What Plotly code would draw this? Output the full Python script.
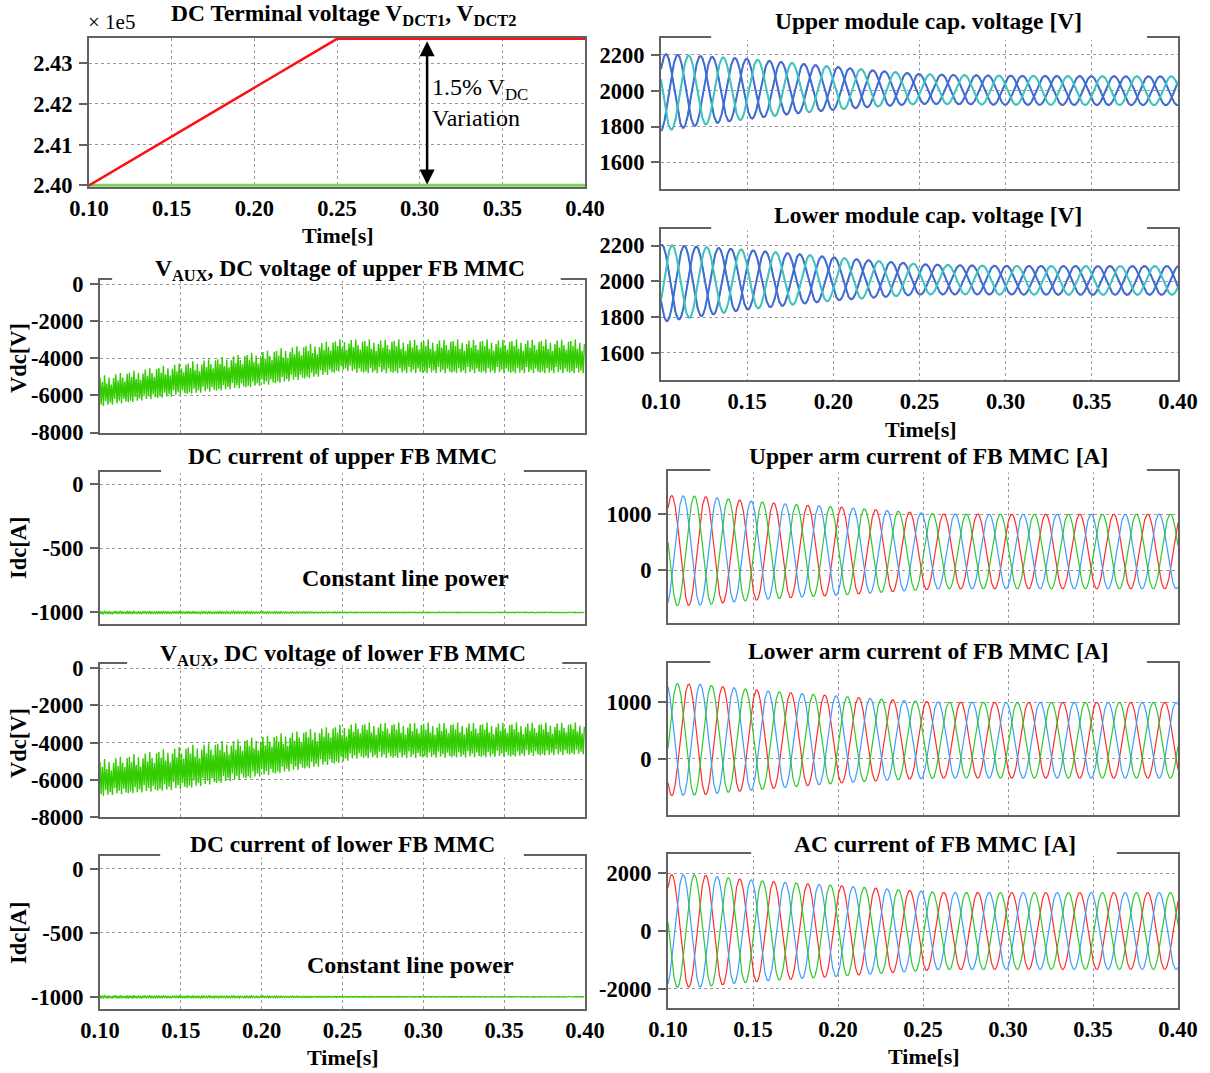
import numpy as np
import plotly.graph_objects as go

# ---------------- data ----------------
T_START, T_END = 0.10, 0.40
F_GRID = 50.0  # Hz
time_ticks = [0.10, 0.15, 0.20, 0.25, 0.30, 0.35, 0.40]

# DC terminal voltages [V]
vdc_t = [0.10, 0.25, 0.40]
vdct1 = [240000, 243600, 243600]
vdct2 = [240000, 240000, 240000]

# V_AUX switching band envelopes [V]
vaux_t = [0.10, 0.15, 0.20, 0.24, 0.25, 0.26, 0.30, 0.35, 0.40]
vaux_up_top = [-4950, -4250, -3620, -3080, -2950, -2980, -2980, -2980, -2980]
vaux_up_bot = [-6600, -5980, -5480, -4920, -4650, -4800, -4800, -4800, -4800]
vaux_lo_top = [-4920, -4200, -3650, -3150, -3020, -2920, -2920, -2920, -2920]
vaux_lo_bot = [-6880, -6500, -5800, -5220, -5050, -4830, -4820, -4770, -4620]
# switching ripple pattern (fraction of the band)
ripple_shape = [0.95, 0.05, 0.80, 0.00, 1.00, 0.15, 0.72, 0.02, 0.90, 0.08, 0.66, 0.00, 0.86,
                0.18, 0.97, 0.03, 0.76, 0.10, 0.99, 0.00, 0.83, 0.14, 0.70, 0.04, 0.93, 0.01]

# DC currents [A]
idc_t = [0.10, 0.25, 0.40]
idc_up = [-1000, -1000, -1000]
idc_lo = [-1000, -1000, -1000]
idc_ripple = [14, 4, 1.5]

# module capacitor voltages [V]
cap_t = [0.10, 0.125, 0.15, 0.175, 0.20, 0.225, 0.25, 0.275, 0.30, 0.35, 0.40]
cap_up_mean = [1990, 2002, 2010, 2013, 2014, 2012, 2010, 2006, 2003, 2001, 2000]
cap_up_amp = [215, 190, 168, 143, 120, 100, 83, 81, 81, 80, 80]
cap_lo_mean = [1988, 2000, 2009, 2012, 2013, 2012, 2011, 2008, 2006, 2005, 2005]
cap_lo_amp = [216, 192, 167, 144, 121, 102, 85, 81, 80, 80, 80]
cap_up_peak = [0.1029, 0.1097, 0.1161]   # phase a, b (blue), c (cyan)
cap_lo_peak = [0.1005, 0.1135, 0.1065]

# arm and AC currents [A]
cur_t = [0.10, 0.12, 0.14, 0.16, 0.18, 0.20, 0.22, 0.24, 0.26, 0.30, 0.35, 0.40]
iac_amp = [1950, 1935, 1810, 1715, 1640, 1570, 1490, 1410, 1335, 1330, 1330, 1330]
iarm_up_amp = [985, 970, 910, 860, 820, 789, 745, 705, 668, 665, 665, 665]
iarm_up_mean = [350, 349, 348, 346, 344, 342, 340, 338, 336, 335, 335, 335]
iarm_lo_amp = [992, 975, 915, 862, 815, 771, 730, 695, 672, 670, 670, 670]
iarm_lo_mean = [343, 341, 338, 336, 338, 341, 338, 336, 333, 331, 330, 330]
phase_peak = [0.1022, 0.1089, 0.1155]   # red, blue, green
phase_colors = ["#FF2B2B", "#3D9BFF", "#2DC82D"]

# ---------------- build signals ----------------
w = 2 * np.pi * F_GRID
t = np.arange(T_START, T_END + 1e-9, 0.0001)
t_sw = np.arange(T_START, T_END + 1e-9, 0.0007)
shape = np.resize(np.array(ripple_shape), len(t_sw))


def carrier(tt, knots, mean, amp, tpk, sign=1.0, extra=0.0):
    return np.interp(tt, knots, mean) + sign * (np.interp(tt, knots, amp) + extra) * np.cos(w * (tt - tpk))


def band(top, bot):
    tp = np.interp(t_sw, vaux_t, top)
    bt = np.interp(t_sw, vaux_t, bot)
    return bt + (tp - bt) * shape


W, H = 1210, 1073
FONT = "Liberation Serif"


def xd(a, b):
    return [a / W, b / W]


def yd(top, bot):
    return [1 - bot / H, 1 - top / H]


fig = go.Figure()

panels = {
    1: dict(x=(89, 585), y=(38, 187), rng=[2.3996, 2.4362], tv=[2.40, 2.41, 2.42, 2.43], xl=True),
    2: dict(x=(100, 585), y=(279.5, 432.5), rng=[-8000, 250], tv=[0, -2000, -4000, -6000, -8000], xl=False),
    3: dict(x=(100, 585), y=(471.5, 624), rng=[-1090, 100], tv=[0, -500, -1000], xl=False),
    4: dict(x=(100, 585), y=(664, 817), rng=[-8000, 230], tv=[0, -2000, -4000, -6000, -8000], xl=False),
    5: dict(x=(100, 585), y=(856, 1009), rng=[-1095, 100], tv=[0, -500, -1000], xl=True),
    6: dict(x=(661, 1178), y=(38.3, 189.3), rng=[1450, 2293], tv=[1600, 1800, 2000, 2200], xl=False),
    7: dict(x=(661, 1178), y=(229, 379.5), rng=[1450, 2293], tv=[1600, 1800, 2000, 2200], xl=True),
    8: dict(x=(668, 1178), y=(471, 623), rng=[-940, 1770], tv=[0, 1000], xl=False),
    9: dict(x=(668, 1178), y=(662.7, 815), rng=[-990, 1700], tv=[0, 1000], xl=False),
    10: dict(x=(668, 1178), y=(854.3, 1007.7), rng=[-2650, 2650], tv=[-2000, 0, 2000], xl=True),
}


def ax_names(i):
    return ("x" if i == 1 else f"x{i}"), ("y" if i == 1 else f"y{i}")


def add(i, x, y, color, width):
    xa, ya = ax_names(i)
    fig.add_trace(go.Scatter(x=x, y=y, mode="lines", line=dict(color=color, width=width),
                             xaxis=xa, yaxis=ya, showlegend=False, hoverinfo="skip"))


# 1: DC terminal voltages (in units of 1e5 V)
add(1, vdc_t, np.array(vdct2) / 1e5, "#7FD35A", 3)
add(1, vdc_t, np.array(vdct1) / 1e5, "#FF1010", 2.5)

# 2, 4: V_AUX
add(2, t_sw, band(vaux_up_top, vaux_up_bot), "#33CC00", 1.4)
add(4, t_sw, band(vaux_lo_top, vaux_lo_bot), "#33CC00", 1.4)

# 3, 5: DC currents
rip = (shape - 0.5) * 2 * np.interp(t_sw, idc_t, idc_ripple)
add(3, t_sw, np.interp(t_sw, idc_t, idc_up) + rip, "#3CCB0A", 1.3)
add(5, t_sw, np.interp(t_sw, idc_t, idc_lo) + rip, "#3CCB0A", 1.3)

# 6, 7: capacitor voltages
cap_top_cols = ["#3A6FD8", "#3A6FD8", "#38C8BC"]
cap_under_cols = ["#E82A2A", "#E070E0", "#E070E0"]
for idx, (mean, amp, peaks) in ((6, (cap_up_mean, cap_up_amp, cap_up_peak)),
                                (7, (cap_lo_mean, cap_lo_amp, cap_lo_peak))):
    for k in range(3):
        add(idx, t, carrier(t, cap_t, mean, amp, peaks[k], extra=2.5), cap_under_cols[k], 1.2)
    for k in range(3):
        add(idx, t, carrier(t, cap_t, mean, amp, peaks[k]), cap_top_cols[k], 2)

# 8, 9, 10: currents
for k in range(3):
    add(8, t, carrier(t, cur_t, iarm_up_mean, iarm_up_amp, phase_peak[k]), phase_colors[k], 1.2)
for k in range(3):
    add(9, t, carrier(t, cur_t, iarm_lo_mean, iarm_lo_amp, phase_peak[k], sign=-1), phase_colors[k], 1.2)
zeros = [0] * len(cur_t)
for k in range(3):
    add(10, t, carrier(t, cur_t, zeros, iac_amp, phase_peak[k]), phase_colors[k], 1.2)


# ---------------- axes ----------------
def lab(v, fmt):
    return "<b>" + (format(v, fmt)) + "</b>"


tickfont = dict(family=FONT, size=22.5, color="black")
layout = dict(width=W, height=H, margin=dict(l=0, r=0, t=0, b=0, autoexpand=False), autosize=False,
              paper_bgcolor="white", plot_bgcolor="white", showlegend=False)
for i, p in panels.items():
    xa, ya = ax_names(i)
    xk = "xaxis" if i == 1 else f"xaxis{i}"
    yk = "yaxis" if i == 1 else f"yaxis{i}"
    yfmt = ".2f" if i == 1 else "d"
    layout[xk] = dict(domain=xd(*p["x"]), anchor=ya, range=[T_START, T_END], tickvals=time_ticks,
                      ticktext=[lab(v, ".2f") for v in time_ticks],
                      showticklabels=p["xl"], ticks="", ticklabelstandoff=0,
                      tickfont=tickfont, showgrid=True, gridcolor="#9A9A9A", griddash="dot", gridwidth=1,
                      showline=True, mirror=True, linecolor="#626262", linewidth=2, zeroline=False,
                      fixedrange=True, automargin=False)
    layout[yk] = dict(domain=yd(*p["y"]), anchor=xa, range=p["rng"], tickvals=p["tv"],
                      ticktext=[lab(v, yfmt) for v in p["tv"]],
                      ticks="outside", ticklen=8, tickwidth=2, tickcolor="#626262",
                      tickfont=tickfont, showgrid=True, gridcolor="#9A9A9A", griddash="dot", gridwidth=1,
                      showline=True, mirror=True, linecolor="#626262", linewidth=2, zeroline=False,
                      fixedrange=True, ticklabelstandoff=2, automargin=False)
fig.update_layout(**layout)


# ---------------- texts ----------------
def px(x):
    return x / W


def py(y):
    return 1 - y / H


ann = []
titlefont = dict(family=FONT, size=23.5, color="black")
titles = [
    (343, 15, "DC Terminal voltage V<sub>DCT1</sub>, V<sub>DCT2</sub>"),
    (340, 270, "V<sub>AUX</sub>, DC voltage of upper FB MMC"),
    (342, 456, "DC current of upper FB MMC"),
    (343, 655, "V<sub>AUX</sub>, DC voltage of lower FB MMC"),
    (342, 844, "DC current of lower FB MMC"),
    (928, 21, "Upper module cap. voltage [V]"),
    (928, 215, "Lower module cap. voltage [V]"),
    (928, 456, "Upper arm current of FB MMC [A]"),
    (928, 651, "Lower arm current of FB MMC [A]"),
    (935, 844, "AC current of FB MMC [A]"),
]
for x, y, s in titles:
    ann.append(dict(x=px(x), y=py(y), xref="paper", yref="paper", text="<b>" + s + "</b>", showarrow=False,
                    font=titlefont, xanchor="center", yanchor="middle"))
for x, y in [(338, 236), (921, 429), (343, 1057), (924, 1056)]:
    ann.append(dict(x=px(x), y=py(y), xref="paper", yref="paper", text="<b>Time[s]</b>", showarrow=False,
                    font=dict(family=FONT, size=22, color="black"), xanchor="center", yanchor="middle"))
for y, s in [(358, "Vdc[V]"), (548, "Idc[A]"), (743, "Vdc[V]"), (933, "Idc[A]")]:
    ann.append(dict(x=px(18), y=py(y), xref="paper", yref="paper", text="<b>" + s + "</b>", showarrow=False,
                    font=dict(family=FONT, size=22.5, color="black"), textangle=-90,
                    xanchor="center", yanchor="middle"))
for x, y in [(405, 578), (410, 965)]:
    ann.append(dict(x=px(x), y=py(y), xref="paper", yref="paper", text="<b>Constant line power</b>",
                    showarrow=False, font=dict(family=FONT, size=24, color="black"),
                    xanchor="center", yanchor="middle"))
ann.append(dict(x=px(86), y=py(22), xref="paper", yref="paper", text="× 1e5", showarrow=False,
                font=dict(family=FONT, size=21, color="black"), xanchor="left", yanchor="middle"))
ann.append(dict(x=px(430), y=py(103), xref="paper", yref="paper",
                text="1.5% V<sub>DC</sub><br>Variation", showarrow=False, align="left",
                font=dict(family=FONT, size=24, color="black"), xanchor="left", yanchor="middle"))
# double arrow spanning the 1.5 % variation
ann.append(dict(x=0.3045, y=vdct2[-1] / 1e5 + 0.0002, xref="x", yref="y",
                ax=0.3045, ay=vdct1[-1] / 1e5 - 0.0002, axref="x", ayref="y", text="",
                showarrow=True, arrowhead=2, startarrowhead=2, arrowside="end+start",
                arrowwidth=2.5, arrowsize=1.2, startarrowsize=1.2, arrowcolor="black",
                standoff=0, startstandoff=0))

# white gaps in the top frame line behind the titles
gaps = {2: (0.025, 0.95), 3: (0.126, 0.874), 4: (0.056, 0.953), 5: (0.124, 0.874),
        6: (0.097, 0.94), 7: (0.097, 0.94), 8: (0.083, 0.939), 9: (0.083, 0.939), 10: (0.163, 0.88)}
shapes = []
for i, (a, b) in gaps.items():
    xa, ya = ax_names(i)
    shapes.append(dict(type="rect", xref=f"{xa} domain", yref=f"{ya} domain", x0=a, x1=b,
                       y0=0.99, y1=1.03, fillcolor="white", line=dict(width=0), layer="above"))

fig.update_layout(annotations=ann, shapes=shapes)
fig.write_html("out.html", config={"displayModeBar": False},
               post_script="document.body.style.margin='0';")
